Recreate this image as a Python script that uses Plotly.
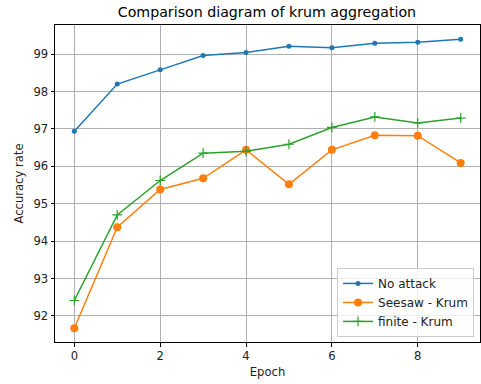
import plotly.graph_objects as go

epochs = list(range(10))
no_attack = [96.94, 98.20, 98.58, 98.965, 99.045, 99.21, 99.17, 99.29, 99.32, 99.40]
seesaw_krum = [91.67, 94.37, 95.38, 95.68, 96.44, 95.52, 96.44, 96.83, 96.82, 96.09]
finite_krum = [92.41, 94.70, 95.62, 96.35, 96.40, 96.59, 97.04, 97.32, 97.16, 97.29]

FONT = "DejaVu Sans"
FS = 11.6
fig = go.Figure()
fig.add_trace(go.Scatter(x=epochs, y=no_attack, mode="lines+markers", name="No attack",
                         line=dict(color="#1f77b4", width=1.5),
                         marker=dict(symbol="circle", size=5, color="#1f77b4")))
fig.add_trace(go.Scatter(x=epochs, y=seesaw_krum, mode="lines+markers", name="Seesaw - Krum",
                         line=dict(color="#ff7f0e", width=1.5),
                         marker=dict(symbol="circle", size=8, color="#ff7f0e")))
fig.add_trace(go.Scatter(x=epochs, y=finite_krum, mode="lines+markers", name="finite - Krum",
                         line=dict(color="#2ca02c", width=1.5),
                         marker=dict(symbol="cross-thin", size=7, line=dict(color="#2ca02c", width=1.2))))

axis_common = dict(showgrid=True, gridcolor="#b0b0b0", gridwidth=0.8, zeroline=False,
                   showline=True, linecolor="black", linewidth=1, mirror=True,
                   ticks="outside", ticklen=3.5, tickwidth=1, tickcolor="black",
                   tickfont=dict(family=FONT, size=FS, color="#222"))
fig.update_xaxes(range=[-0.45, 9.45], tickvals=[0, 2, 4, 6, 8],
                 title=dict(text="Epoch", font=dict(family=FONT, size=FS, color="#222"), standoff=5),
                 **axis_common)
fig.update_yaxes(range=[91.30, 99.78], tickvals=[92, 93, 94, 95, 96, 97, 98, 99],
                 title=dict(text="Accuracy rate", font=dict(family=FONT, size=FS, color="#222"), standoff=7),
                 **axis_common)
fig.update_layout(
    width=481, height=384,
    margin=dict(l=55, r=1, t=25, b=42),
    plot_bgcolor="white", paper_bgcolor="white",
    title=dict(text="Comparison diagram of krum aggregation", x=0.555, xanchor="center",
               y=0.968, yanchor="middle", font=dict(family=FONT, size=14.2, color="black")),
    legend=dict(x=0.986, y=0.016, xanchor="right", yanchor="bottom",
                bgcolor="rgba(255,255,255,0.8)", bordercolor="#cccccc", borderwidth=1,
                font=dict(family=FONT, size=FS + 0.4, color="#222"), tracegroupgap=0,
                itemwidth=30),
    showlegend=True,
)
fig.write_html("out.html")
